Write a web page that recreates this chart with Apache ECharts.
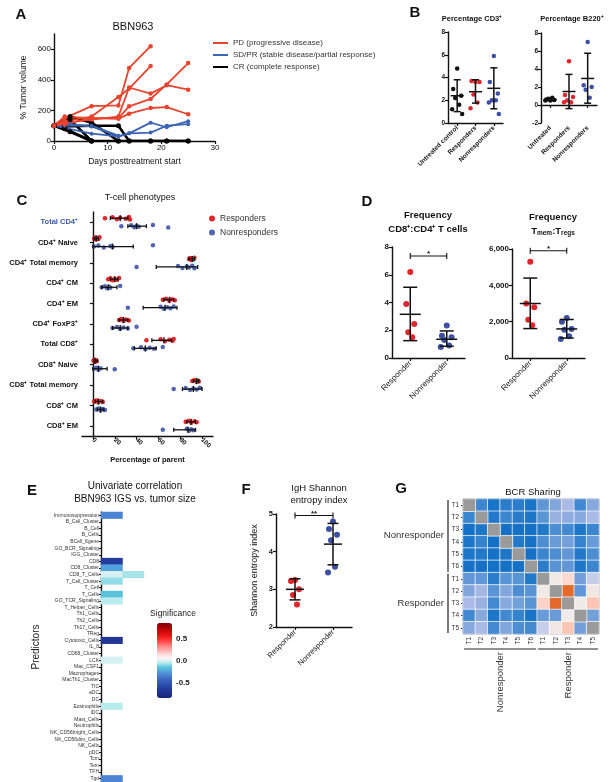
<!DOCTYPE html>
<html>
<head>
<meta charset="utf-8">
<title>BBN963 figure</title>
<script src="https://cdn.jsdelivr.net/npm/echarts@6.0.0/dist/echarts.min.js"></script>
<style>
  html, body { margin: 0; padding: 0; background: #fff; }
  #main { width: 612px; height: 782px; }
</style>
</head>
<body>
<div id="main"></div>
<script>
const FONT = '"Liberation Sans", Arial, Helvetica, sans-serif';
const RED = '#e3262b';
const BLUE = '#3c4fa2';
const INK = '#111';

// ---- A: tumour volume per mouse (null = no measurement)
const aDays = [0, 2, 3, 7, 12, 14, 18, 21, 25];
const aPdLines = [
  [100, 150, null, 228, 233, 478, 620, null, null],
  [100, 130, null, 160, 288, 343, 490, null, null],
  [100, 160, null, 150, 150, 227, 275, 370, 510],
  [100, 120, null, 140, 160, 350, 310, 365, 336],
  [100, 110, null, 150, 145, 179, 216, 222, 175]
];
const aSdLines = [
  [100, null, 110, 95, 30, 50, 120, 90, 130],
  [100, null, null, 48, 30, 50, 55, 100, 110],
  [100, 100, null, 100, 35, null, null, null, null]
];
const aCrLines = [
  [100, null, 160, 120, 0, 0, 0, 0, 0],
  [100, 95, null, 100, 100, 0, 0, 0, 0],
  [100, null, 140, 0, 0, null, null, null, null],
  [100, 80, null, 0, null, null, null, null, null],
  [100, null, 60, 0, null, null, null, null, null]
];
const aYTicks = [0, 200, 400, 600];

// ---- B: percentage CD3+ / B220+
const bCd3Cats = ['Untreated control', 'Responders', 'Nonresponders'];
const bB220Cats = ['Untreated', 'Responders', 'Nonresponders'];
const cd3Untreated = [4.8, 3.0, 2.4, 2.2, 1.6, 1.2, 0.8];
const cd3Resp = [3.6, 3.7, 3.6, 2.5, 1.8, 1.3];
const cd3Nonresp = [5.9, 3.6, 2.6, 2.0, 2.0, 1.8, 0.8];
const cd3Stats = [[2.4, 1.0, 3.8], [2.75, 1.75, 3.8], [3.05, 1.25, 4.85]]; // mean, low, high
const b220Untreated = [0.5, 0.6, 0.55, 0.7, 0.8, 0.5];
const b220Resp = [4.85, 1.1, 0.9, 0.5, 0.3, 0.3];
const b220Nonresp = [7.0, 2.2, 2.0, 1.7, 0.8];
const b220Stats = [[0.6, 0.5, 0.72], [1.5, -0.4, 3.4], [2.95, 0.2, 5.75]];

// ---- C: T-cell phenotypes (percentage of parent)
const cRows = ['Total CD4⁺', 'CD4⁺ Naive', 'CD4⁺ Total memory', 'CD4⁺ CM', 'CD4⁺ EM', 'CD4⁺ FoxP3⁺',
  'Total CD8⁺', 'CD8⁺ Naive', 'CD8⁺ Total memory', 'CD8⁺ CM', 'CD8⁺ EM'];
const cResp = [
  [11, 18, 22, 25, 30, 33, 34],
  [1, 2, 3, 4, 5, 6],
  [88, 89, 90, 91, 92, 93],
  [14, 16, 18, 20, 22, 24],
  [64, 67, 70, 72, 75],
  [24, 26, 28, 30, 33],
  [49, 62, 66, 70, 73, 74],
  [0.5, 1, 2, 3, 3.5],
  [91, 93, 95, 96, 97],
  [1, 3, 5, 7, 9],
  [85, 88, 90, 93, 95]
];
const cNonresp = [
  [26, 35, 38, 40, 42, 55, 69],
  [1, 5, 10, 16, 18, 55],
  [40, 78, 82, 86, 88, 91, 93],
  [8, 11, 13, 15, 16, 25],
  [32, 62, 65, 68, 71, 74],
  [18, 22, 25, 28, 32, 40],
  [37, 44, 48, 52, 56, 64],
  [1, 3, 5, 7, 20],
  [74, 85, 89, 92, 95, 98],
  [3, 5, 7, 9, 11],
  [64, 86, 88, 90, 92]
];
const cRespBars = [[16, 25, 32], [1, 3, 5], [88, 91, 93], [16, 20, 23], [65, 70, 74], [24, 28, 32],
  [54, 65, 72], [1, 2, 4], [92, 95, 97], [2, 5, 9], [86, 90, 94]]; // low, median, high
const cNonrespBars = [[32, 40, 49], [0, 18, 37], [58, 86, 96], [8, 14, 22], [46, 66, 77], [18, 25, 32],
  [38, 48, 58], [0, 5, 13], [82, 92, 100], [4, 7, 10], [74, 87, 94]];
const cXTicks = [0, 20, 40, 60, 80, 100];

// ---- D: frequency ratios
const dCats = ['Responder', 'Nonresponder'];
const dRatioResp = [6.2, 3.9, 2.45, 1.85, 1.5];
const dRatioNonresp = [2.35, 1.6, 1.5, 1.3, 0.9, 0.8];
const dRatioStats = [[3.15, 1.25, 5.1], [1.35, 0.85, 1.95]];
const dTmemResp = [5300, 3000, 2800, 2100, 1800];
const dTmemNonresp = [2200, 2000, 1600, 1550, 1200, 1050];
const dTmemStats = [[3000, 1620, 4400], [1600, 1100, 2120]];

// ---- E: univariate correlation with tumour size
const ePredictors = ['Immunosuppression', 'B_Cell_Cluster', 'B_Cell', 'B_Cells', 'BCell_6gene', 'GO_BCR_Signaling',
  'IGG_Cluster', 'CD8', 'CD8_Cluster', 'CD8_T_Cells', 'T_Cell_Cluster', 'T_Cell', 'T_Cells', 'GO_TCR_Signaling',
  'T_Helper_Cells', 'Th1_Cells', 'Th2_Cells', 'Th17_Cells', 'TReg', 'Cytotoxic_Cells', 'IL_8', 'CD68_Cluster',
  'LCK', 'Mac_CSF1', 'Macrophages', 'MacTh1_Cluster', 'TIC', 'aDC', 'DC', 'Eosinophils', 'iDC', 'Mast_Cells',
  'Neutrophils', 'NK_CD56bright_Cells', 'NK_CD56dim_Cells', 'NK_Cells', 'pDC', 'Tcm', 'Tem', 'TFH', 'Tgd'];
const eCol1 = [-0.33, null, null, null, null, null, null, -0.65, -0.25, -0.01, -0.09, null, -0.16, -0.05,
  null, null, null, null, null, -0.7, null, null, -0.01, null, null, null, null, null, null, -0.05,
  null, null, null, null, null, null, null, null, null, null, -0.33];
const eCol2 = [null, null, null, null, null, null, null, null, null, -0.07, null, null, null, null,
  null, null, null, null, null, null, null, null, null, null, null, null, null, null, null, null,
  null, null, null, null, null, null, null, null, null, null, null];
const eLegendTicks = [0.5, 0.0, -0.5];

// ---- F: IgH Shannon entropy
const fResp = [3.25, 3.22, 3.0, 2.85, 2.6];
const fNonresp = [4.8, 4.6, 4.45, 4.3, 3.6, 3.45];
const fStats = [[3.0, 2.72, 3.28], [4.2, 3.65, 4.75]];

// ---- G: BCR sharing (null on the diagonal)
const gLabels = ['T1', 'T2', 'T3', 'T4', 'T5', 'T6', 'T1', 'T2', 'T3', 'T4', 'T5'];
const gGroups = ['Nonresponder', 'Responder'];
const gGroupSpans = [[0, 5], [6, 10]];
const gSharing = [
  [null, 0.2, 0.08, 0.15, 0.15, 0.08, 0.3, 0.38, 0.5, 0.22, 0.4],
  [0.2, null, 0.12, 0.2, 0.15, 0.1, 0.28, 0.45, 0.42, 0.4, 0.5],
  [0.05, 0.1, null, 0.05, 0.05, 0.05, 0.12, 0.25, 0.22, 0.1, 0.2],
  [0.1, 0.18, 0.05, null, 0.12, 0.06, 0.25, 0.32, 0.35, 0.18, 0.32],
  [0.1, 0.12, 0.06, 0.1, null, 0.05, 0.2, 0.25, 0.3, 0.12, 0.25],
  [0.06, 0.06, 0.05, 0.05, 0.05, null, 0.15, 0.28, 0.3, 0.1, 0.2],
  [0.3, 0.3, 0.15, 0.28, 0.28, 0.12, null, 0.65, 0.72, 0.35, 0.55],
  [0.38, 0.48, 0.28, 0.38, 0.25, 0.28, 0.65, null, 0.98, 0.3, 0.66],
  [0.5, 0.45, 0.22, 0.4, 0.35, 0.28, 0.75, 0.98, null, 0.64, 0.78],
  [0.22, 0.4, 0.1, 0.22, 0.18, 0.08, 0.32, 0.32, 0.64, null, 0.35],
  [0.4, 0.5, 0.22, 0.38, 0.25, 0.22, 0.55, 0.66, 0.78, 0.35, null]
];

const E_COLORS = ['#1a237a', '#1f2f8e', '#243c9e', '#2c4eb0', '#3761bf', '#4a7cd0', '#52a0dc', '#5cc6dc',
  '#b8ecee', '#fff6f6', '#ffd6d6', '#ffa8a8', '#ff7878', '#ff4040', '#f01818', '#d00a0a', '#a80404', '#800000'];
const G_COLORS = ['#0b6cc4', '#2379c9', '#4d8ed3', '#7ea5dc', '#aab9e5', '#eeeeee', '#fcd3c6', '#f49a72', '#e2601c'];

// small horizontal spread for dots in the same group
const JIT = [0, -4, 4, -2, 2, -5, 5];

function valAxis(grid, min, max, interval, size, bold) {
  return {
    type: 'value', gridIndex: grid, min: min, max: max, interval: interval,
    axisLine: { show: true, lineStyle: { color: INK, width: 1.4 } },
    axisTick: { show: true, length: 3, lineStyle: { color: INK, width: 1.2 } },
    splitLine: { show: false },
    axisLabel: { fontSize: size, fontWeight: bold ? 'bold' : 'normal', color: INK, fontFamily: FONT, margin: 3 }
  };
}

function catAxis(grid, data, size, rotate, bold) {
  return {
    type: 'category', gridIndex: grid, data: data,
    axisLine: { show: true, lineStyle: { color: INK, width: 1.4 } },
    axisTick: { show: true, alignWithLabel: true, length: 3, lineStyle: { color: INK, width: 1.2 } },
    splitLine: { show: false },
    axisLabel: { fontSize: size, fontWeight: bold ? 'bold' : 'normal', color: INK, fontFamily: FONT,
      rotate: rotate, interval: 0, margin: 4 }
  };
}

function tumorLine(vals, name, color, width, size) {
  const pts = [];
  vals.forEach(function (v, i) { if (v !== null) pts.push([aDays[i], v]); });
  return {
    type: 'line', name: name, xAxisIndex: 0, yAxisIndex: 0, data: pts,
    symbol: 'circle', symbolSize: size, showSymbol: true,
    lineStyle: { color: color, width: width }, itemStyle: { color: color }
  };
}

function dots(axis, cat, values, color, size, spread) {
  return {
    type: 'scatter', name: 'g' + axis + '_' + cat, xAxisIndex: axis, yAxisIndex: axis,
    symbolSize: size, itemStyle: { color: color, opacity: 1 },
    data: values.map(function (v, i) {
      return { value: [cat, v], symbolOffset: [JIT[i % JIT.length] * spread, 0] };
    })
  };
}

function meanSd(axis, stats, meanW, capW) {
  return {
    type: 'custom', xAxisIndex: axis, yAxisIndex: axis, z: 4, silent: true,
    encode: { x: 0, y: [1, 2, 3] },
    data: stats.map(function (s, i) { return [i, s[0], s[1], s[2]]; }),
    renderItem: function (params, api) {
      const x = api.value(0);
      const m = api.coord([x, api.value(1)]);
      const lo = api.coord([x, api.value(2)]);
      const hi = api.coord([x, api.value(3)]);
      const st = { stroke: INK, lineWidth: 1.5 };
      return {
        type: 'group', children: [
          { type: 'line', shape: { x1: m[0], y1: lo[1], x2: m[0], y2: hi[1] }, style: st },
          { type: 'line', shape: { x1: m[0] - meanW / 2, y1: m[1], x2: m[0] + meanW / 2, y2: m[1] }, style: st },
          { type: 'line', shape: { x1: m[0] - capW / 2, y1: lo[1], x2: m[0] + capW / 2, y2: lo[1] }, style: st },
          { type: 'line', shape: { x1: m[0] - capW / 2, y1: hi[1], x2: m[0] + capW / 2, y2: hi[1] }, style: st }
        ]
      };
    }
  };
}

function sigBar(axis, yVal, mark) {
  return {
    type: 'custom', xAxisIndex: axis, yAxisIndex: axis, z: 4, silent: true, clip: false,
    encode: { x: [0, 1], y: 2 },
    data: [[0, 1, yVal]],
    renderItem: function (params, api) {
      const a = api.coord([api.value(0), api.value(2)]);
      const b = api.coord([api.value(1), api.value(2)]);
      const st = { stroke: INK, lineWidth: 1.1 };
      return {
        type: 'group', children: [
          { type: 'line', shape: { x1: a[0], y1: a[1], x2: b[0], y2: b[1] }, style: st },
          { type: 'line', shape: { x1: a[0], y1: a[1] - 3, x2: a[0], y2: a[1] + 3 }, style: st },
          { type: 'line', shape: { x1: b[0], y1: b[1] - 3, x2: b[0], y2: b[1] + 3 }, style: st },
          { type: 'text', x: (a[0] + b[0]) / 2, y: a[1] + 2,
            style: { text: mark, fontSize: 8, fontWeight: 'bold', fontFamily: FONT, fill: INK,
              align: 'center', verticalAlign: 'bottom' } }
        ]
      };
    }
  };
}

function rangeBars(bars, dy) {
  return {
    type: 'custom', xAxisIndex: 3, yAxisIndex: 3, z: 4, silent: true,
    encode: { x: [0, 1, 2], y: 3 },
    data: bars.map(function (b, r) { return [b[0], b[1], b[2], r]; }),
    renderItem: function (params, api) {
      const r = api.value(3);
      const lo = api.coord([api.value(0), r]);
      const mid = api.coord([api.value(1), r]);
      const hi = api.coord([api.value(2), r]);
      const y = lo[1] + dy;
      const st = { stroke: INK, lineWidth: 1.3 };
      return {
        type: 'group', children: [
          { type: 'line', shape: { x1: lo[0], y1: y, x2: hi[0], y2: y }, style: st },
          { type: 'line', shape: { x1: lo[0], y1: y - 2, x2: lo[0], y2: y + 2 }, style: st },
          { type: 'line', shape: { x1: hi[0], y1: y - 2, x2: hi[0], y2: y + 2 }, style: st },
          { type: 'line', shape: { x1: mid[0], y1: y - 3, x2: mid[0], y2: y + 3 }, style: st }
        ]
      };
    }
  };
}

function phenotypeDots(name, rows, color, dy) {
  const data = [];
  rows.forEach(function (vals, r) {
    vals.forEach(function (v, i) {
      data.push({ value: [v, r], symbolOffset: [0, dy + JIT[i % JIT.length] * 0.25] });
    });
  });
  return { type: 'scatter', name: name, xAxisIndex: 3, yAxisIndex: 3, symbolSize: 4.5,
    itemStyle: { color: color, opacity: 1 }, data: data };
}

// ---------- axes
const xAxes = [];
const yAxes = [];

// A
const ax0 = valAxis(0, 0, 30, 10, 8, false);
ax0.name = 'Days posttreatment start';
ax0.nameLocation = 'middle';
ax0.nameGap = 16;
ax0.nameTextStyle = { fontSize: 8.5, color: INK, fontFamily: FONT };
xAxes.push(ax0);
const ay0 = valAxis(0, 0, 700, null, 8, false);
ay0.axisLabel.customValues = aYTicks;
ay0.axisTick.customValues = aYTicks;
ay0.name = '% Tumor volume';
ay0.nameLocation = 'middle';
ay0.nameGap = 26;
ay0.nameTextStyle = { fontSize: 8.5, color: INK, fontFamily: FONT };
yAxes.push(ay0);

// B
xAxes.push(catAxis(1, bCd3Cats, 6.5, 45, true));
yAxes.push(valAxis(1, 0, 8, 2, 6.5, true));
xAxes.push(catAxis(2, bB220Cats, 6.5, 45, true));
yAxes.push(valAxis(2, -2, 8, 2, 6.5, true));

// C
const ax3 = valAxis(3, -10, 110, null, 6.5, true);
ax3.axisLabel.customValues = cXTicks;
ax3.axisTick.customValues = cXTicks;
ax3.axisLabel.rotate = -45;
ax3.name = 'Percentage of parent';
ax3.nameLocation = 'middle';
ax3.nameGap = 20;
ax3.nameTextStyle = { fontSize: 7.5, fontWeight: 'bold', color: INK, fontFamily: FONT };
xAxes.push(ax3);
const ay3 = catAxis(3, cRows, 7.5, 0, true);
ay3.inverse = true;
ay3.axisLabel.color = function (v, i) { return i === 0 ? '#3d5aa8' : INK; };
yAxes.push(ay3);

// D
xAxes.push(catAxis(4, dCats, 8, 45, false));
yAxes.push(valAxis(4, 0, 8, 2, 8, true));
xAxes.push(catAxis(5, dCats, 8, 45, false));
const ay5 = valAxis(5, 0, 6000, 2000, 8, true);
ay5.axisLabel.formatter = function (v) { return v.toLocaleString('en-US'); };
yAxes.push(ay5);

// E
const ax6 = catAxis(6, ['c1', 'c2'], 5, 0, false);
ax6.show = false;
xAxes.push(ax6);
const ay6 = catAxis(6, ePredictors, 5, 0, false);
ay6.inverse = true;
ay6.axisTick.length = 2;
ay6.axisLabel.margin = 2;
ay6.axisLabel.color = '#333';
ay6.name = 'Predictors';
ay6.nameLocation = 'middle';
ay6.nameGap = 60;
ay6.nameTextStyle = { fontSize: 10, color: '#222', fontFamily: FONT };
yAxes.push(ay6);

// F
xAxes.push(catAxis(7, dCats, 7.5, 45, false));
const ay7 = valAxis(7, 2, 5, 1, 7.5, true);
ay7.name = 'Shannon entropy index';
ay7.nameLocation = 'middle';
ay7.nameGap = 17;
ay7.nameTextStyle = { fontSize: 9, color: INK, fontFamily: FONT };
yAxes.push(ay7);

// G
const ax8 = catAxis(8, gLabels, 6.5, 90, false);
ax8.axisLine.show = false;
ax8.axisTick.show = false;
ax8.axisLabel.margin = 3;
ax8.axisLabel.color = '#333';
xAxes.push(ax8);
const ay8 = catAxis(8, gLabels, 6.5, 0, false);
ay8.inverse = true;
ay8.axisLine.show = false;
ay8.axisTick.length = 2;
ay8.axisTick.lineStyle = { color: '#333', width: 1 };
ay8.axisLabel.color = '#333';
yAxes.push(ay8);

// ---------- series
const series = [];
aCrLines.forEach(function (v) { series.push(tumorLine(v, 'CR (complete response)', '#000', 2.6, 5)); });
aSdLines.forEach(function (v) { series.push(tumorLine(v, 'SD/PR (stable disease/partial response)', '#3c64b4', 1.8, 4)); });
aPdLines.forEach(function (v) { series.push(tumorLine(v, 'PD (progressive disease)', '#e8432d', 1.8, 4.5)); });

series.push(dots(1, 0, cd3Untreated, INK, 4.5, 1));
series.push(dots(1, 1, cd3Resp, RED, 4.5, 1));
series.push(dots(1, 2, cd3Nonresp, BLUE, 4.5, 1));
series.push(meanSd(1, cd3Stats, 13, 7));
series.push(dots(2, 0, b220Untreated, INK, 4.5, 1));
series.push(dots(2, 1, b220Resp, RED, 4.5, 1));
series.push(dots(2, 2, b220Nonresp, BLUE, 4.5, 1));
series.push(meanSd(2, b220Stats, 13, 7));

series.push(phenotypeDots('Responders', cResp, RED, -4));
series.push(phenotypeDots('Nonresponders', cNonresp, '#5266b0', 4));
series.push(rangeBars(cRespBars, -4));
series.push(rangeBars(cNonrespBars, 4));

series.push(dots(4, 0, dRatioResp, RED, 6, 1));
series.push(dots(4, 1, dRatioNonresp, BLUE, 6, 1.2));
series.push(meanSd(4, dRatioStats, 21, 14));
series.push(sigBar(4, 7.35, '*'));
series.push(dots(5, 0, dTmemResp, RED, 6, 1));
series.push(dots(5, 1, dTmemNonresp, BLUE, 6, 1.2));
series.push(meanSd(5, dTmemStats, 21, 14));
series.push(sigBar(5, 5900, '*'));

const eData = [];
eCol1.forEach(function (v, r) { if (v !== null) eData.push([0, r, v]); });
eCol2.forEach(function (v, r) { if (v !== null) eData.push([1, r, v]); });
const E_IDX = series.length;
series.push({ type: 'heatmap', xAxisIndex: 6, yAxisIndex: 6, data: eData, silent: true });

series.push(dots(7, 0, fResp, RED, 6, 1));
series.push(dots(7, 1, fNonresp, BLUE, 6, 1));
series.push(meanSd(7, fStats, 18, 11));
series.push(sigBar(7, 4.96, '**'));

const gData = [];
const gDiag = [];
gSharing.forEach(function (row, r) {
  row.forEach(function (v, c) {
    if (v === null) gDiag.push([c, r, 0]); else gData.push([c, r, v]);
  });
});
const G_IDX = series.length;
series.push({ type: 'heatmap', xAxisIndex: 8, yAxisIndex: 8, data: gData, silent: true,
  itemStyle: { borderColor: '#fff', borderWidth: 0.7 } });
series.push({ type: 'heatmap', xAxisIndex: 8, yAxisIndex: 8, data: gDiag, silent: true,
  itemStyle: { color: '#9a9a9a', borderColor: '#fff', borderWidth: 0.7 } });
series.push({
  type: 'custom', xAxisIndex: 8, yAxisIndex: 8, silent: true, clip: false,
  encode: { x: [0, 1], y: [0, 1] },
  data: gGroupSpans,
  renderItem: function (params, api) {
    const s = api.value(0), e = api.value(1);
    const band = api.size([1, 1]);
    const first = api.coord([s, s]);
    const last = api.coord([e, e]);
    const left = api.coord([0, 0])[0] - band[0] / 2;
    const bottom = api.coord([gLabels.length - 1, gLabels.length - 1])[1] + band[1] / 2;
    const st = { stroke: '#222', lineWidth: 1.2 };
    const label = gGroups[params.dataIndex];
    const ts = { text: label, fontSize: 9.5, fontFamily: FONT, fill: '#333' };
    const y0 = first[1] - band[1] / 2 + 1, y1 = last[1] + band[1] / 2 - 1;
    const x0 = first[0] - band[0] / 2 + 1, x1 = last[0] + band[0] / 2 - 1;
    return {
      type: 'group', children: [
        { type: 'line', shape: { x1: left - 15, y1: y0, x2: left - 15, y2: y1 }, style: st },
        { type: 'text', x: left - 19, y: (y0 + y1) / 2,
          style: Object.assign({ align: 'right', verticalAlign: 'middle' }, ts) },
        { type: 'line', shape: { x1: x0, y1: bottom + 15, x2: x1, y2: bottom + 15 }, style: st },
        { type: 'text', x: (x0 + x1) / 2, y: bottom + 18, rotation: Math.PI / 2,
          style: Object.assign({ align: 'right', verticalAlign: 'middle' }, ts) }
      ]
    };
  }
});

// ---------- free text (titles, panel letters, colour-bar ticks)
function txt(x, y, text, size, extra) {
  return { type: 'text', x: x, y: y, silent: true,
    style: Object.assign({ text: text, fontSize: size, fontFamily: FONT, fill: INK,
      align: 'center', verticalAlign: 'middle' }, extra || {}) };
}
const graphics = [];
[['A', 21, 15], ['B', 415, 13], ['C', 22, 201], ['D', 367, 202], ['E', 32, 491], ['F', 246, 490], ['G', 401, 489]]
  .forEach(function (p) { graphics.push(txt(p[1], p[2], p[0], 15, { fontWeight: 'bold' })); });
graphics.push(txt(133, 27, 'BBN963', 11));
graphics.push(txt(472, 19, 'Percentage CD3⁺', 7.5, { fontWeight: 'bold' }));
graphics.push(txt(572, 19, 'Percentage B220⁺', 7.5, { fontWeight: 'bold' }));
graphics.push(txt(140, 198, 'T-cell phenotypes', 9));
graphics.push(txt(428, 215, 'Frequency', 9.5, { fontWeight: 'bold' }));
graphics.push(txt(428, 229, 'CD8⁺:CD4⁺ T cells', 9.5, { fontWeight: 'bold' }));
graphics.push(txt(553, 217, 'Frequency', 9.5, { fontWeight: 'bold' }));
graphics.push(txt(553, 231, '{b|T}{s|mem}{b|:T}{s|regs}', 9.5, {
  rich: {
    b: { fontSize: 9.5, fontWeight: 'bold', fontFamily: FONT, lineHeight: 12, verticalAlign: 'middle' },
    s: { fontSize: 6.5, fontWeight: 'bold', fontFamily: FONT, lineHeight: 7, verticalAlign: 'bottom' }
  }
}));
graphics.push(txt(135, 486, 'Univariate correlation', 10));
graphics.push(txt(135, 499, 'BBN963 IGS vs. tumor size', 10));
graphics.push(txt(319, 488, 'IgH Shannon', 9.5));
graphics.push(txt(319, 500, 'entropy index', 9.5));
graphics.push(txt(533, 492, 'BCR Sharing', 9.5));
graphics.push(txt(173, 614, 'Significance', 8.5, { fill: '#222' }));

const VM = { left: 157, top: 623, w: 15, h: 75, min: -0.85, max: 0.85 };
eLegendTicks.forEach(function (v) {
  const y = VM.top + (VM.max - v) / (VM.max - VM.min) * VM.h;
  graphics.push(txt(VM.left + VM.w + 4, y, v.toFixed(1), 8, { align: 'left', fontWeight: 'bold', fill: '#222' }));
});

const option = {
  backgroundColor: '#fff',
  animation: false,
  grid: [
    { left: 54, top: 34, width: 161, height: 107 },
    { left: 448, top: 32, width: 55, height: 91 },
    { left: 541, top: 33, width: 56, height: 90 },
    { left: 82, top: 212, width: 131, height: 224 },
    { left: 392, top: 247, width: 73, height: 111 },
    { left: 512, top: 249, width: 73, height: 109 },
    { left: 101, top: 512, width: 43, height: 270 },
    { left: 276, top: 514, width: 76, height: 113 },
    { left: 463, top: 499, width: 136, height: 135, show: true, borderColor: '#444', borderWidth: 1,
      backgroundColor: 'transparent' }
  ].map(function (g) { g.containLabel = false; g.outerBoundsMode = 'none'; return g; }),
  legend: [
    {
      data: ['PD (progressive disease)', 'SD/PR (stable disease/partial response)', 'CR (complete response)'],
      orient: 'vertical', left: 213, top: 39, icon: 'rect', itemWidth: 15, itemHeight: 2, itemGap: 4,
      selectedMode: false, padding: 0,
      textStyle: { fontSize: 8, color: '#333', fontFamily: FONT }
    },
    {
      data: ['Responders', 'Nonresponders'],
      orient: 'vertical', left: 209, top: 214, icon: 'circle', itemWidth: 6, itemHeight: 6, itemGap: 5,
      selectedMode: false, padding: 0,
      textStyle: { fontSize: 8.5, color: '#333', fontFamily: FONT }
    }
  ],
  visualMap: [
    { type: 'continuous', seriesIndex: E_IDX, min: VM.min, max: VM.max, calculable: false,
      left: VM.left, top: VM.top, itemWidth: VM.w, itemHeight: VM.h, padding: 0,
      inRange: { color: E_COLORS } },
    { type: 'continuous', seriesIndex: G_IDX, min: 0, max: 1, show: false,
      inRange: { color: G_COLORS } }
  ],
  xAxis: xAxes,
  yAxis: yAxes,
  series: series,
  graphic: graphics
};

const chart = echarts.init(document.getElementById('main'));
chart.setOption(option);
</script>
</body>
</html>
